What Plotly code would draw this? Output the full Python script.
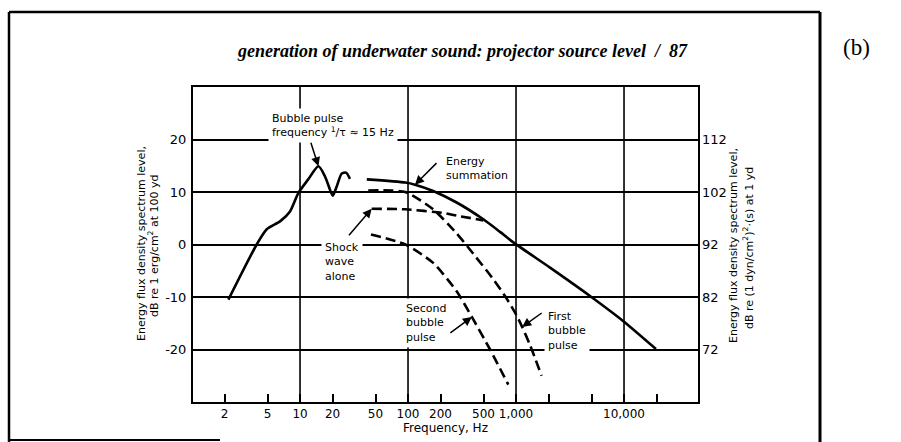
import numpy as np
import plotly.graph_objects as go

# ---- data (frequency in Hz, level in dB re 1 erg/cm^2 at 100 yd) ----
bubble_freq = [2.17, 3.97, 4.92, 6.53, 8.08, 9.64, 11.9, 14.8, 17.0, 18.9, 20.1, 21.9, 24.3, 26.7, 29.0]
bubble_db = [-10.5, 0.0, 2.9, 4.4, 6.3, 9.8, 12.4, 14.9, 13.0, 10.5, 9.3, 11.1, 13.5, 13.7, 12.5]

energy_freq = [41.5, 94.4, 116, 171, 282, 498, 711, 944, 2065, 4840, 9860, 19770]
energy_db = [12.4, 11.8, 11.4, 10.2, 8.0, 4.8, 2.4, 0.4, -4.4, -9.8, -14.6, -19.9]

shock_freq = [46.1, 94.4, 212, 282, 498]
shock_db = [6.8, 6.7, 6.0, 5.5, 4.6]

first_freq = [42.8, 94.4, 171, 282, 403, 600, 807, 1000, 1140, 1350, 1725]
first_db = [10.3, 10.0, 6.7, 2.1, -1.8, -6.3, -10.1, -13.3, -15.7, -19.2, -25.0]

second_freq = [45.4, 94.4, 171, 282, 390, 575, 848]
second_db = [1.9, 0.0, -3.5, -8.9, -13.8, -20.0, -26.7]

x_label_vals = [2, 5, 10, 20, 50, 100, 200, 500, 1000, 10000]
x_label_text = ["2", "5", "10", "20", "50", "100", "200", "500", "1,000", "10,000"]
x_extra_ticks = [2000, 5000, 20000]
x_grid_freqs = [10, 100, 1000, 10000]

y_tick_vals = [-20, -10, 0, 10, 20]
y_left_text = ["-20", "-10", "0", "10", "20"]
y_right_text = ["72", "82", "92", "102", "112"]

# ---- geometry helpers (pixel -> paper) ----
W, H = 901, 442
ML, MR, MT, MB = 193, 203, 87, 40
PW, PH = W - ML - MR, H - MT - MB


def px(x):
    return (x - ML) / PW


def py(y):
    return (H - MB - y) / PH


SANS = "DejaVu Sans"
SERIF = "Liberation Serif"
INK = "black"

fig = go.Figure()

solid = dict(color=INK, width=2.6)
dashed = dict(color=INK, width=2.6, dash="10px,5px")

fig.add_trace(go.Scatter(x=bubble_freq, y=bubble_db, mode="lines",
                         line=dict(**solid, shape="spline", smoothing=0.7)))
fig.add_trace(go.Scatter(x=energy_freq, y=energy_db, mode="lines",
                         line=dict(**solid, shape="spline", smoothing=0.6)))
fig.add_trace(go.Scatter(x=shock_freq, y=shock_db, mode="lines",
                         line=dict(**dashed, shape="spline", smoothing=0.6)))
fig.add_trace(go.Scatter(x=first_freq, y=first_db, mode="lines",
                         line=dict(**dashed, shape="spline", smoothing=0.6)))
fig.add_trace(go.Scatter(x=second_freq, y=second_db, mode="lines",
                         line=dict(**dashed, shape="spline", smoothing=0.6)))
# hook for the right-hand (re 1 yd) axis
fig.add_trace(go.Scatter(x=[None], y=[None], yaxis="y2", mode="lines", hoverinfo="skip"))

# vertical decade grid lines
shapes = []
for f in x_grid_freqs:
    shapes.append(dict(type="line", xref="x", yref="paper", x0=f, x1=f, y0=0, y1=1,
                       line=dict(color=INK, width=1.6), layer="below"))

# page frame
fl, fr, ft, fb = px(9), px(820), py(12), py(443)
shapes += [
    dict(type="line", xref="paper", yref="paper", x0=fl, x1=fr, y0=ft, y1=ft, line=dict(color=INK, width=2.5)),
    dict(type="line", xref="paper", yref="paper", x0=fl, x1=fl, y0=ft, y1=fb, line=dict(color=INK, width=2.5)),
    dict(type="line", xref="paper", yref="paper", x0=fr, x1=fr, y0=ft, y1=fb, line=dict(color=INK, width=3)),
    dict(type="line", xref="paper", yref="paper", x0=fl, x1=px(220), y0=py(440), y1=py(440), line=dict(color=INK, width=2)),
]

annotations = []


def text(t, x, y, size=11, angle=0, xanchor="center", family=SANS, **font_extra):
    annotations.append(dict(text=t, xref="paper", yref="paper", x=px(x), y=py(y),
                            xanchor=xanchor, yanchor="middle", textangle=angle, showarrow=False,
                            font=dict(family=family, size=size, color=INK, **font_extra)))


def label(t, x, y, size=11):
    annotations.append(dict(text=t, xref="paper", yref="paper", x=px(x), y=py(y),
                            xanchor="left", yanchor="middle", align="left", showarrow=False,
                            font=dict(family=SANS, size=size, color=INK),
                            bgcolor="white", borderpad=3))


def arrow(f, db, ax, ay):
    annotations.append(dict(text="", x=np.log10(f), y=db, xref="x", yref="y", ax=ax, ay=ay,
                            showarrow=True, arrowhead=2, arrowsize=1.2, arrowwidth=1.5,
                            arrowcolor=INK, standoff=0, startstandoff=0))


label("Bubble pulse<br>frequency <sup>1</sup>/τ ≈ 15 Hz", 268, 125)
label("Energy<br>summation", 442, 168)
label("Shock<br>wave<br>alone", 321, 262)
label("Second<br>bubble<br>pulse", 402, 323)
label("First<br>bubble<br>pulse", 544, 331)

peak = int(np.argmax(bubble_db))
arrow(bubble_freq[peak], bubble_db[peak], -8, -25)
arrow(energy_freq[2], energy_db[2], 23, -23)
arrow(shock_freq[0], shock_db[0], -24, 28)
arrow(second_freq[4], second_db[4], -23, 17)
arrow(first_freq[8], first_db[8], 21, -15)

# axis titles
text("Energy flux density spectrum level,", 141, 244, angle=-90)
text("dB re 1 erg/cm<sup>2</sup> at 100 yd", 153, 246, angle=-90)
text("Energy flux density spectrum level,", 733, 246, angle=-90)
text("dB re (1 dyn/cm<sup>2</sup>)<sup>2</sup>·(s) at 1 yd", 748, 248, angle=-90)
text("Frequency, Hz", 445, 428, size=12)
# running head and panel letter
text("generation of underwater sound: projector source level  /  87", 690, 51, size=18,
     xanchor="right", family=SERIF, style="italic", weight="bold")
text("(b)", 856, 47, size=23, family=SERIF)

fig.update_layout(
    width=W, height=H,
    margin=dict(l=ML, r=MR, t=MT, b=MB, pad=0),
    paper_bgcolor="white", plot_bgcolor="white",
    showlegend=False,
    shapes=shapes,
    annotations=annotations,
    xaxis=dict(type="log", range=[0.009, 4.685],
               tickmode="array", tickvals=x_label_vals, ticktext=x_label_text,
               ticks="inside", ticklen=8, tickwidth=1.6, tickcolor=INK,
               minor=dict(tickmode="array", tickvals=x_extra_ticks, ticks="inside",
                          ticklen=8, tickwidth=1.6, tickcolor=INK, showgrid=False),
               showgrid=False, zeroline=False,
               showline=True, mirror=True, linecolor=INK, linewidth=2,
               tickfont=dict(family=SANS, size=12, color=INK)),
    yaxis=dict(range=[-30, 30], tickmode="array", tickvals=y_tick_vals, ticktext=y_left_text,
               ticks="", showgrid=True, gridcolor=INK, gridwidth=1.6, zeroline=False,
               showline=True, mirror=True, linecolor=INK, linewidth=2, ticklabelstandoff=2,
               tickfont=dict(family=SANS, size=13, color=INK)),
    yaxis2=dict(range=[-30, 30], overlaying="y", side="right", tickmode="array",
                tickvals=y_tick_vals, ticktext=y_right_text, ticks="", showgrid=False,
                zeroline=False, showline=False, ticklabelstandoff=3,
                tickfont=dict(family=SANS, size=13, color=INK)),
)

fig.write_html("out.html")
